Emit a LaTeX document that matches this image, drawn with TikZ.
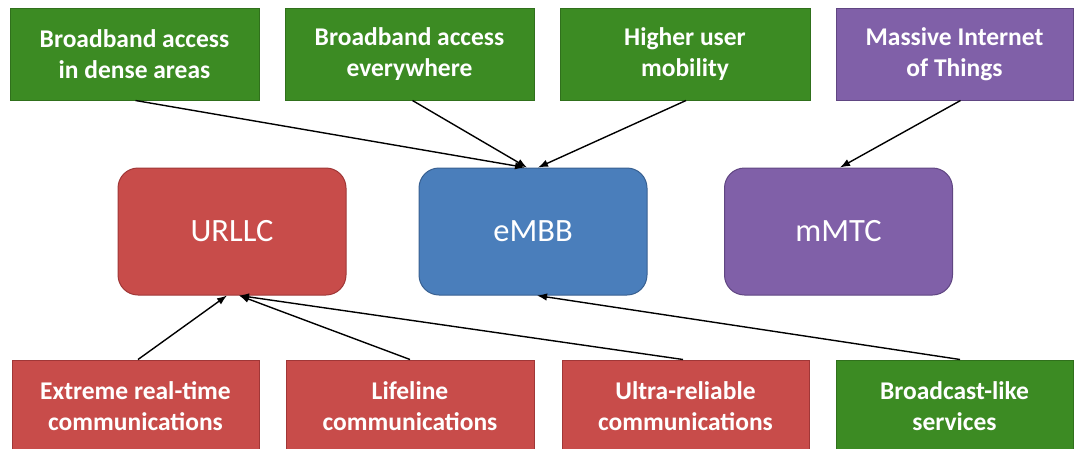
\documentclass[tikz,border=0pt]{standalone}
\usepackage{fontspec}
\setmainfont{Carlito}
\usetikzlibrary{arrows.meta}
\definecolor{gbox}{RGB}{60,139,35}
\definecolor{gline}{RGB}{48,112,28}
\definecolor{rbox}{RGB}{200,76,74}
\definecolor{rline}{RGB}{160,55,55}
\definecolor{bbox}{RGB}{74,126,187}
\definecolor{bline}{RGB}{56,96,145}
\definecolor{pbox}{RGB}{128,96,168}
\definecolor{pline}{RGB}{96,70,130}
\tikzset{
  small/.style={rectangle, inner sep=0pt, minimum height=92pt, line width=1pt,
    text=white, align=center, font=\bfseries\fontsize{25.5}{31}\selectfont},
  gsmall/.style={small, fill=gbox, draw=gline},
  rsmall/.style={small, fill=rbox, draw=rline},
  psmall/.style={small, fill=pbox, draw=pline},
  big/.style={rectangle, rounded corners=20pt, inner sep=0pt, minimum width=228pt,
    minimum height=127pt, line width=1pt, text=white, font=\fontsize{32.5}{38}\selectfont},
  arr/.style={draw=black, line width=1.4pt, -{Latex[length=10pt,width=7.5pt]}}
}
\begin{document}
\begin{tikzpicture}[x=1pt,y=-1pt]
\useasboundingbox (0,0) rectangle (1082,448);
% top row
\node[gsmall, minimum width=249pt] (t1) at (134.5,54) {Broadband access\\in dense areas};
\node[gsmall, minimum width=249pt] (t2) at (409.5,54) {Broadband access\\everywhere};
\node[gsmall, minimum width=250pt] (t3) at (685,54) {Higher user\\mobility};
\node[psmall, minimum width=237pt] (t4) at (954.5,54) {Massive Internet\\of Things};
% middle row
\node[big, fill=rbox, draw=rline] (urllc) at (232,231.5) {URLLC};
\node[big, fill=bbox, draw=bline] (embb) at (533,231.5) {eMBB};
\node[big, fill=pbox, draw=pline] (mmtc) at (838.5,231.5) {mMTC};
% bottom row
\node[rsmall, minimum width=247pt] (b1) at (135.5,406) {Extreme real-time\\communications};
\node[rsmall, minimum width=248pt] (b2) at (410,406) {Lifeline\\communications};
\node[rsmall, minimum width=247pt] (b3) at (685.5,406) {Ultra-reliable\\communications};
\node[gsmall, minimum width=237pt] (b4) at (954.5,406) {Broadcast-like\\services};
% arrows
\draw[arr] ([xshift=1pt]t1.south) -- ([xshift=-8pt]embb.north);
\draw[arr] ([xshift=3pt]t2.south) -- ([xshift=-6pt]embb.north);
\draw[arr] ([xshift=1pt]t3.south) -- ([xshift=5pt]embb.north);
\draw[arr] ([xshift=6pt]t4.south) -- ([xshift=1.5pt]mmtc.north);
\draw[arr] ([xshift=2.5pt]b1.north) -- ([xshift=-5pt]urllc.south);
\draw[arr] (b2.north) -- ([xshift=7pt]urllc.south);
\draw[arr] ([xshift=-2.5pt]b3.north) -- ([xshift=7pt]urllc.south);
\draw[arr] ([xshift=5.5pt]b4.north) -- ([xshift=4pt]embb.south);
\end{tikzpicture}
\end{document}
